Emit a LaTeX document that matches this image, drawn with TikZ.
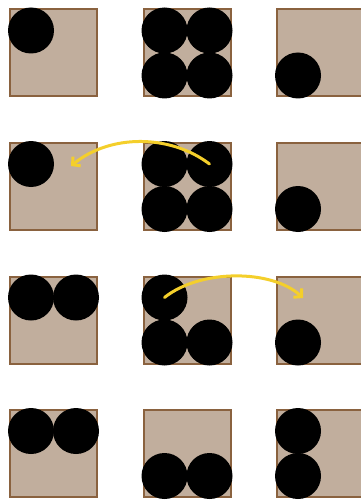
\documentclass[tikz,border=0pt]{standalone}
\usepackage{tikz}
\usetikzlibrary{arrows.meta, positioning}
\definecolor{sand}{HTML}{C1AE9D}
\definecolor{umber}{HTML}{8A623F}
\definecolor{gold}{HTML}{F4CF2B}

\begin{document}
\begin{tikzpicture}[
  x=1pt, y=-1pt,
  cell/.style={
    rectangle, draw=umber, fill=sand, line width=2pt,
    minimum size=87pt, inner sep=0pt,
  },
  ball/.style={circle, fill=black, minimum size=46pt, inner sep=0pt},
  tl/.style={shift={(-22.5,-22.5)}},
  tr/.style={shift={(22.5,-22.5)}},
  bl/.style={shift={(-22.5,22.5)}},
  br/.style={shift={(22.5,22.5)}},
  move/.style={-{Straight Barb[length=5.5pt, width=12pt]}, line width=3pt, color=gold, line cap=round},
  node distance=44.5pt,
]
\useasboundingbox (0,0) rectangle (360,500);
% grid of cells
\node[cell] (c11) at (53.5,53) {};
\node[cell, right=of c11] (c12) {};
\node[cell, right=of c12] (c13) {};
\node[cell, below=of c11] (c21) {};
\node[cell, right=of c21] (c22) {};
\node[cell, right=of c22] (c23) {};
\node[cell, below=of c21] (c31) {};
\node[cell, right=of c31] (c32) {};
\node[cell, right=of c32] (c33) {};
\node[cell, below=of c31] (c41) {};
\node[cell, right=of c41] (c42) {};
\node[cell, right=of c42] (c43) {};
% row 1
\node[ball] (b11tl) at ([tl]c11.center) {};
\node[ball] (b12tl) at ([tl]c12.center) {};
\node[ball] (b12tr) at ([tr]c12.center) {};
\node[ball] (b12bl) at ([bl]c12.center) {};
\node[ball] (b12br) at ([br]c12.center) {};
\node[ball] (b13bl) at ([bl]c13.center) {};
% row 2
\node[ball] (b21tl) at ([tl]c21.center) {};
\node[ball] (b22tl) at ([tl]c22.center) {};
\node[ball] (b22tr) at ([tr]c22.center) {};
\node[ball] (b22bl) at ([bl]c22.center) {};
\node[ball] (b22br) at ([br]c22.center) {};
\node[ball] (b23bl) at ([bl]c23.center) {};
% row 3
\node[ball] (b31tl) at ([tl]c31.center) {};
\node[ball] (b31tr) at ([tr]c31.center) {};
\node[ball] (b32tl) at ([tl]c32.center) {};
\node[ball] (b32bl) at ([bl]c32.center) {};
\node[ball] (b32br) at ([br]c32.center) {};
\node[ball] (b33bl) at ([bl]c33.center) {};
% row 4
\node[ball] (b41tl) at ([tl]c41.center) {};
\node[ball] (b41tr) at ([tr]c41.center) {};
\node[ball] (b42bl) at ([bl]c42.center) {};
\node[ball] (b42br) at ([br]c42.center) {};
\node[ball] (b43tl) at ([tl]c43.center) {};
\node[ball] (b43bl) at ([bl]c43.center) {};
% moves
\coordinate (back) at (71,166);
\coordinate (ahead) at (303,298);
\draw[move] (b22tr.center) .. controls (170,134) and (110,134) .. (back);
\draw[move] (b32tl.center) .. controls (200,269) and (272,269) .. (ahead);
\end{tikzpicture}
\end{document}
